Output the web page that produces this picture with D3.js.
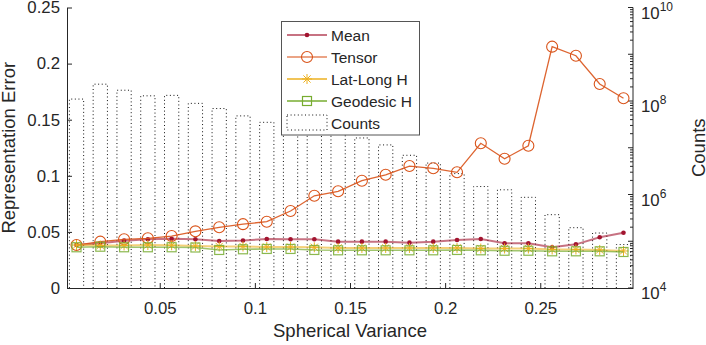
<!DOCTYPE html>
<html>
<head>
<meta charset="utf-8">
<script src="https://cdn.jsdelivr.net/npm/d3@7"></script>
<style>
  body { margin: 0; background: #fff; }
  text { font-family: "Liberation Sans", Arial, sans-serif; fill: #262626; }
</style>
</head>
<body>
<div id="chart"></div>
<script>
// chart size
var svgWidth = 706;
var svgHeight = 345;

var plot = { left: 67, right: 633, top: 7.5, bottom: 288 };

// data (bin centres of spherical variance)
var variance = [0.00625, 0.01875, 0.03125, 0.04375, 0.05625, 0.06875, 0.08125, 0.09375,
  0.10625, 0.11875, 0.13125, 0.14375, 0.15625, 0.16875, 0.18125, 0.19375,
  0.20625, 0.21875, 0.23125, 0.24375, 0.25625, 0.26875, 0.28125, 0.29375];

var meanErr = [0.0383, 0.0398, 0.0422, 0.0434, 0.0439, 0.0434, 0.0419, 0.0423,
  0.0437, 0.0434, 0.0434, 0.0413, 0.0413, 0.0413, 0.0404, 0.0413,
  0.0428, 0.0437, 0.0398, 0.0398, 0.0363, 0.0389, 0.0452, 0.0493];

var tensorErr = [0.0383, 0.0413, 0.0434, 0.0443, 0.0463, 0.0505, 0.0541, 0.0569,
  0.0591, 0.0686, 0.0822, 0.0862, 0.0956, 0.1009, 0.1087, 0.1067,
  0.1031, 0.1290, 0.1152, 0.1268, 0.2151, 0.2070, 0.1818, 0.1691];

var latLongErr = [0.0383, 0.0379, 0.0379, 0.0383, 0.0381, 0.0374, 0.0370, 0.0370,
  0.0365, 0.0365, 0.0363, 0.0357, 0.0357, 0.0357, 0.0357, 0.0357,
  0.0357, 0.0352, 0.0352, 0.0352, 0.0343, 0.0343, 0.0339, 0.0330];

var geodesicErr = [0.0363, 0.0368, 0.0363, 0.0363, 0.0363, 0.0361, 0.0339, 0.0345,
  0.0348, 0.0348, 0.0339, 0.0336, 0.0336, 0.0336, 0.0336, 0.0336,
  0.0339, 0.0336, 0.0332, 0.0332, 0.0327, 0.0327, 0.0327, 0.0321];

var counts = [1.10e8, 2.29e8, 1.70e8, 1.29e8, 1.32e8, 8.9e7, 6.9e7, 4.8e7,
  3.5e7, 2.95e7, 2.5e7, 1.95e7, 1.62e7, 1.15e7, 6.9e6, 4.7e6,
  2.8e6, 1.48e6, 1.26e6, 8.7e5, 3.7e5, 1.95e5, 1.5e5, 8.5e4];

var xTicks = [0.05, 0.1, 0.15, 0.2, 0.25];
var yTicks = [0, 0.05, 0.1, 0.15, 0.2, 0.25];
var countExps = [4, 6, 8, 10];

var colors = { mean: "#A2142F", tensor: "#D95319", latlong: "#EDB120", geo: "#77AC30" };

var svg = d3.select("#chart")
  .append("svg")
  .attr("width", svgWidth)
  .attr("height", svgHeight);

var xScale = d3.scaleLinear()
  .domain([0.00125, 0.29875])
  .range([plot.left, plot.right]);

var yScale = d3.scaleLinear()
  .domain([0, 0.25])
  .range([plot.bottom, plot.top]);

var cScale = d3.scaleLog()
  .domain([1e4, 1e10])
  .range([plot.bottom, plot.top]);

// Counts bars (dotted outlines)
var binW = 0.0125 * 0.6;
svg.append("g").selectAll("path")
  .data(counts)
  .enter()
  .append("path")
  .attr("d", function(d, i) {
    var x0 = xScale(variance[i] - binW / 2), x1 = xScale(variance[i] + binW / 2);
    var yt = cScale(d);
    return "M" + x0 + "," + plot.bottom + "V" + yt + "H" + x1 + "V" + plot.bottom;
  })
  .attr("fill", "none")
  .attr("stroke", "#111")
  .attr("stroke-width", 1)
  .attr("stroke-dasharray", "1,2.6");

// Axes
var xAxis = d3.axisBottom(xScale).tickValues(xTicks).tickFormat(d3.format("")).tickSize(-5).tickSizeOuter(0).tickPadding(14);
var yAxis = d3.axisLeft(yScale).tickValues(yTicks).tickFormat(d3.format("")).tickSize(-5).tickSizeOuter(0).tickPadding(7);

var gx = svg.append("g")
  .attr("transform", "translate(0," + plot.bottom + ")")
  .call(xAxis);
var gy = svg.append("g")
  .attr("transform", "translate(" + plot.left + ",0)")
  .call(yAxis);

[gx, gy].forEach(function(g) {
  g.select(".domain").attr("stroke", "#262626");
  g.selectAll(".tick line").attr("stroke", "#262626");
  g.selectAll("text").style("font-size", "16.8px").attr("fill", "#262626");
});

// right log axis
var gr = svg.append("g");
gr.append("line")
  .attr("x1", plot.right).attr("x2", plot.right)
  .attr("y1", plot.top).attr("y2", plot.bottom)
  .attr("stroke", "#262626");
var minor = [];
for (var e = 4; e < 10; e++) {
  for (var m = 1; m < 10; m++) minor.push(m * Math.pow(10, e));
}
minor.push(1e10);
gr.selectAll(".mt")
  .data(minor)
  .enter()
  .append("line")
  .attr("x1", plot.right)
  .attr("x2", function(d) { return Math.abs(Math.log10(d) % 1) < 1e-9 ? plot.right - 5 : plot.right - 3; })
  .attr("y1", d => cScale(d))
  .attr("y2", d => cScale(d))
  .attr("stroke", "#262626");

var lab = gr.selectAll(".rl")
  .data(countExps)
  .enter()
  .append("text")
  .attr("x", plot.right + 8)
  .attr("y", d => cScale(Math.pow(10, d)) + 11)
  .style("font-size", "16.8px");
lab.append("tspan").text("10");
lab.append("tspan").attr("dy", -8).style("font-size", "12px").text(d => d);

// Lines
function drawSeries(vals, color, width, opacity) {
  var line = d3.line()
    .x((d, i) => xScale(variance[i]))
    .y(d => yScale(d));
  svg.append("path")
    .datum(vals)
    .attr("d", line)
    .attr("fill", "none")
    .attr("stroke", color)
    .attr("stroke-width", width)
    .attr("stroke-opacity", opacity);
}

function asterisk(x, y, s) {
  var d = s * 0.72;
  return "M" + (x - s) + "," + y + "H" + (x + s) +
    "M" + x + "," + (y - s) + "V" + (y + s) +
    "M" + (x - d) + "," + (y - d) + "L" + (x + d) + "," + (y + d) +
    "M" + (x - d) + "," + (y + d) + "L" + (x + d) + "," + (y - d);
}

drawSeries(meanErr, colors.mean, 2, 0.6);
svg.append("g").selectAll("circle")
  .data(meanErr).enter().append("circle")
  .attr("cx", (d, i) => xScale(variance[i]))
  .attr("cy", d => yScale(d))
  .attr("r", 2.3)
  .attr("fill", colors.mean);

drawSeries(tensorErr, colors.tensor, 1.3, 0.9);
svg.append("g").selectAll("circle")
  .data(tensorErr).enter().append("circle")
  .attr("cx", (d, i) => xScale(variance[i]))
  .attr("cy", d => yScale(d))
  .attr("r", 5.5)
  .attr("fill", "none")
  .attr("stroke", colors.tensor)
  .attr("stroke-width", 1.1);

drawSeries(latLongErr, colors.latlong, 2, 0.6);
svg.append("g").selectAll("path")
  .data(latLongErr).enter().append("path")
  .attr("d", (d, i) => asterisk(xScale(variance[i]), yScale(d), 5))
  .attr("stroke", colors.latlong)
  .attr("stroke-width", 1);

drawSeries(geodesicErr, colors.geo, 1.6, 0.7);
svg.append("g").selectAll("rect")
  .data(geodesicErr).enter().append("rect")
  .attr("x", (d, i) => xScale(variance[i]) - 4.5)
  .attr("y", d => yScale(d) - 4.5)
  .attr("width", 9)
  .attr("height", 9)
  .attr("fill", "none")
  .attr("stroke", colors.geo)
  .attr("stroke-opacity", 0.85)
  .attr("stroke-width", 1.2);

// Axis labels
svg.append("text")
  .attr("x", (plot.left + plot.right) / 2)
  .attr("y", 337)
  .attr("text-anchor", "middle")
  .style("font-size", "18.5px")
  .text("Spherical Variance");

svg.append("text")
  .attr("transform", "translate(15," + ((plot.top + plot.bottom) / 2) + ") rotate(-90)")
  .attr("text-anchor", "middle")
  .style("font-size", "18.5px")
  .text("Representation Error");

svg.append("text")
  .attr("transform", "translate(705," + ((plot.top + plot.bottom) / 2) + ") rotate(-90)")
  .attr("text-anchor", "middle")
  .style("font-size", "18.5px")
  .text("Counts");

// Legend
var legend = svg.append("g");
legend.append("rect")
  .attr("x", 281.5).attr("y", 21.5)
  .attr("width", 138).attr("height", 113.5)
  .attr("fill", "#fff")
  .attr("stroke", "#555")
  .attr("stroke-width", 1);

var legendNames = ["Mean", "Tensor", "Lat-Long H", "Geodesic H", "Counts"];
legendNames.forEach(function(name, i) {
  var y = 35 + 22 * i;
  var g = legend.append("g");
  if (i === 0) {
    g.append("line").attr("x1", 287).attr("x2", 327).attr("y1", y).attr("y2", y)
      .attr("stroke", colors.mean).attr("stroke-width", 2).attr("stroke-opacity", 0.6);
    g.append("circle").attr("cx", 307).attr("cy", y).attr("r", 2.3).attr("fill", colors.mean);
  } else if (i === 1) {
    g.append("line").attr("x1", 287).attr("x2", 327).attr("y1", y).attr("y2", y)
      .attr("stroke", colors.tensor).attr("stroke-width", 1.3).attr("stroke-opacity", 0.7);
    g.append("circle").attr("cx", 307).attr("cy", y).attr("r", 5.5)
      .attr("fill", "none").attr("stroke", colors.tensor).attr("stroke-width", 1.1);
  } else if (i === 2) {
    g.append("line").attr("x1", 287).attr("x2", 327).attr("y1", y).attr("y2", y)
      .attr("stroke", colors.latlong).attr("stroke-width", 1.3);
    g.append("path").attr("d", asterisk(307, y, 5)).attr("stroke", colors.latlong).attr("stroke-width", 1);
  } else if (i === 3) {
    g.append("line").attr("x1", 287).attr("x2", 327).attr("y1", y).attr("y2", y)
      .attr("stroke", colors.geo).attr("stroke-width", 1.3);
    g.append("rect").attr("x", 302.5).attr("y", y - 4.5).attr("width", 9).attr("height", 9)
      .attr("fill", "none").attr("stroke", colors.geo).attr("stroke-width", 1.2);
  } else {
    g.append("rect").attr("x", 287).attr("y", y - 8).attr("width", 40).attr("height", 15)
      .attr("fill", "none").attr("stroke", "#111").attr("stroke-dasharray", "1,2.6");
  }
  g.append("text")
    .attr("x", 331)
    .attr("y", y + 5.5)
    .style("font-size", "15.5px")
    .text(name);
});
</script>
</body>
</html>
